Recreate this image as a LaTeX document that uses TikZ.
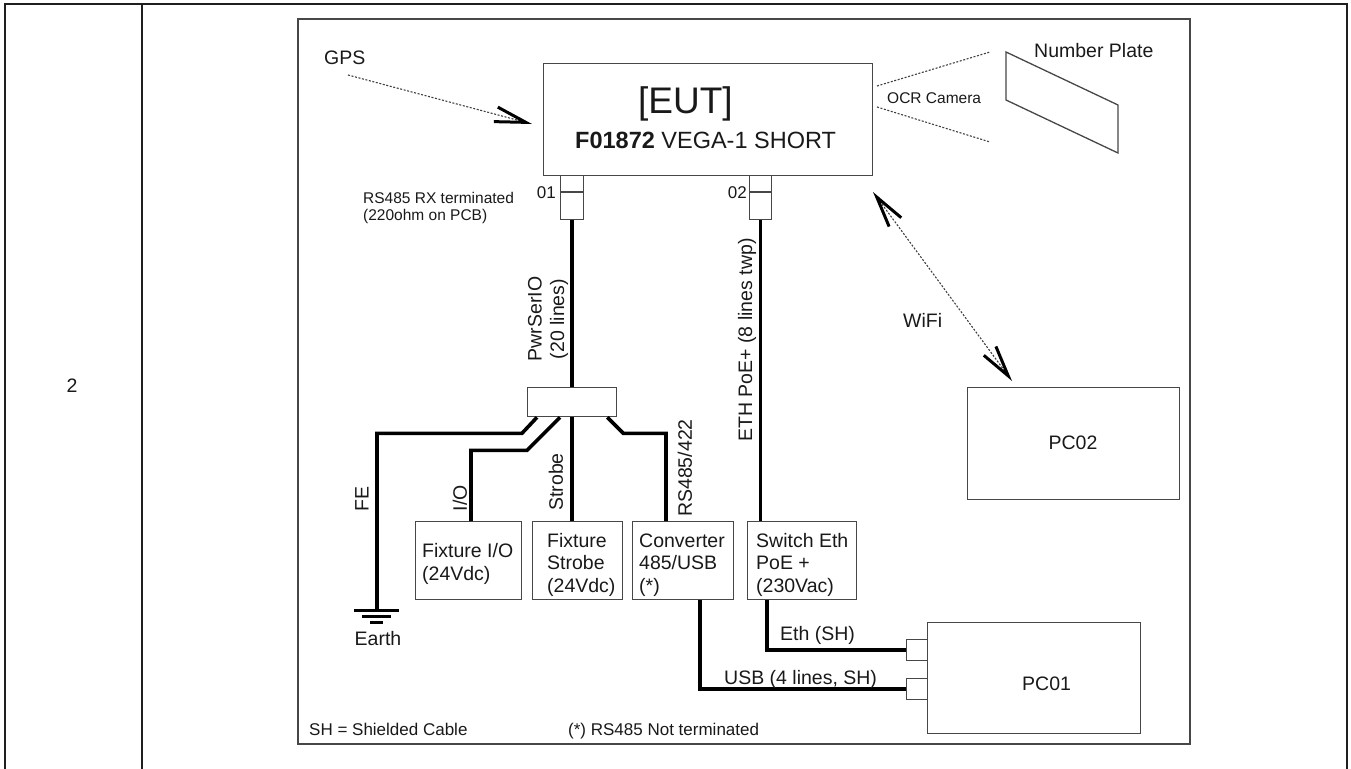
\documentclass[tikz,border=0pt]{standalone}
\usepackage{fontspec}
\setmainfont{Liberation Sans}
\usetikzlibrary{arrows.meta}
\definecolor{boxgray}{gray}{0.28}
\definecolor{txt}{gray}{0.1}
\definecolor{dotgray}{gray}{0.25}
\begin{document}
\begin{tikzpicture}[x=1pt,y=-1pt,
  tbl/.style={draw=black!88, line width=2.6pt},
  frame/.style={draw=boxgray, line width=1.4pt},
  box/.style={draw=boxgray, line width=1.3pt, anchor=north west, inner sep=0pt},
  cable/.style={draw=black, line width=3.6pt},
  radio/.style={draw=dotgray, line width=1.1pt, dash pattern=on 2pt off 1.6pt},
  vtip/.tip={Straight Barb[length=31pt,width=15pt,line width=3pt,color=black]},
  lbl/.style={font=\fontsize{19.5}{22.5}\selectfont, text=txt, inner sep=0pt},
  small/.style={font=\fontsize{15.5}{17.5}\selectfont, text=txt, inner sep=0pt},
  note/.style={font=\fontsize{17}{20}\selectfont, text=txt, inner sep=0pt},
]
\useasboundingbox (0,0) rectangle (1351,768);
% outer table
\draw[tbl] (5,775) -- (5,4) -- (1347,4) -- (1347,775);
\draw[tbl] (142,4) -- (142,775);
\node[lbl, anchor=base] (rownum) at (72,392) {2};
% inner frame
\draw[frame] (298,19) rectangle (1190,744);

% EUT
\node[box, minimum width=329pt, minimum height=112pt] (eut) at (543,63) {};
\node[font=\fontsize{37}{40}\selectfont, text=txt, inner sep=0pt, anchor=base west] (euttitle) at (638,113) {[EUT]};
\node[font=\fontsize{23.5}{26}\selectfont, text=txt, inner sep=0pt, anchor=base west] (eutsub) at (575,148) {\textbf{F01872} VEGA-1 SHORT};

% ports on EUT
\node[box, minimum width=23pt, minimum height=44pt] (p1) at (560,175) {};
\draw[boxgray, line width=1.3pt] (p1.west |- 0,192) -- (p1.east |- 0,192);
\node[box, minimum width=22pt, minimum height=44pt] (p2) at (749,175) {};
\draw[boxgray, line width=1.3pt] (p2.west |- 0,192) -- (p2.east |- 0,192);
\node[font=\fontsize{17}{20}\selectfont, text=txt, inner sep=0pt, anchor=base east] (l01) at (556,198) {01};
\node[font=\fontsize{17}{20}\selectfont, text=txt, inner sep=0pt, anchor=base east] (l02) at (747,198) {02};
\node[small, anchor=base west] (rsterm1) at (363,203) {RS485 RX terminated};
\node[small, anchor=base west] (rsterm2) at (363,220) {(220ohm on PCB)};

% GPS
\node[lbl, anchor=base west] (gps) at (324,64) {GPS};
\coordinate (gpsfrom) at (348,75);
\coordinate (gpstip) at (532,124);
\draw[radio, -vtip] (gpsfrom) -- (gpstip);

% Number plate and OCR camera
\draw[boxgray, line width=1.3pt] (1006,52) -- (1118,105) -- (1118,153) -- (1006,100) -- cycle;
\node[lbl, anchor=base west] (plate) at (1034,58) {Number Plate};
\draw[radio] (877,86) -- (990,52);
\draw[radio] (877,107) -- (990,142);
\node[small, anchor=base west] (ocr) at (887,103) {OCR Camera};

% junction
\node[box, minimum width=89pt, minimum height=29pt] (jb) at (527,387) {};
\draw[cable] (p1.south) -- (jb.north);
\node[lbl, rotate=90, align=center] (pwrlbl) at (548,319) {PwrSerIO\\(20 lines)};

% devices
\node[box, minimum width=106pt, minimum height=78pt] (fio) at (415,521) {};
\node[box, minimum width=90pt, minimum height=78pt] (fsb) at (532,521) {};
\node[box, minimum width=101pt, minimum height=78pt] (conv) at (632,521) {};
\node[box, minimum width=109pt, minimum height=78pt] (sw) at (747,521) {};

\node[lbl, anchor=base west] (fio1) at (422,557) {Fixture I/O};
\node[lbl, anchor=base west] (fio2) at (422,580) {(24Vdc)};
\node[lbl, anchor=base west] (fsb1) at (547,547) {Fixture};
\node[lbl, anchor=base west] (fsb2) at (547,569.5) {Strobe};
\node[lbl, anchor=base west] (fsb3) at (547,592) {(24Vdc)};
\node[lbl, anchor=base west] (conv1) at (639,547) {Converter};
\node[lbl, anchor=base west] (conv2) at (639,569.5) {485/USB};
\node[lbl, anchor=base west] (conv3) at (639,592) {(*)};
\node[lbl, anchor=base west] (sw1) at (756,547) {Switch Eth};
\node[lbl, anchor=base west] (sw2) at (756,569.5) {PoE +};
\node[lbl, anchor=base west] (sw3) at (756,592) {(230Vac)};

% branch cables
\coordinate (earth) at (377,610);
\draw[cable] ([xshift=10pt]jb.south west) -- ++(-15,16) -| (earth);
\draw[cable] ([xshift=33pt]jb.south west) -- ++(-33,33) -| ([xshift=56pt]fio.north west);
\draw[cable] (jb.south) -- (jb.south |- fsb.north);
\draw[cable] ([xshift=-10pt]jb.south east) -- ++(16,16) -| ([xshift=34pt]conv.north west);
\draw[cable] (p2.south) -- (p2.south |- sw.north);

\node[lbl, rotate=90] (felbl) at (362,499) {FE};
\node[lbl, rotate=90] (iolbl) at (460,498) {I/O};
\node[lbl, rotate=90] (strlbl) at (556,482) {Strobe};
\node[lbl, rotate=90] (rslbl) at (685,468) {RS485/422};
\node[lbl, rotate=90] (ethlbl) at (747,340) {ETH PoE+ (8 lines twp)};

% earth symbol
\draw[black, line width=3pt] (earth) ++(-23,0) -- ++(45,0);
\draw[black, line width=3pt] (earth) ++(-15,6) -- ++(29,0);
\draw[black, line width=3pt] (earth) ++(-7,12) -- ++(13,0);
\node[lbl, anchor=base] (earthlbl) at (378,645) {Earth};

% PC01
\node[box, minimum width=213pt, minimum height=111pt] (pc1) at (927,622) {};
\node[lbl, anchor=base west] (pc1lbl) at (1022,690) {PC01};
\node[box, minimum width=21pt, minimum height=21pt] (pp1) at (906,639) {};
\node[box, minimum width=21pt, minimum height=21pt] (pp2) at (906,678) {};
\draw[cable] ([xshift=20pt]sw.south west) |- (pp1.west);
\draw[cable] ([xshift=68pt]conv.south west) |- (pp2.west);
\node[lbl, anchor=base west] (ethsh) at (780,640) {Eth (SH)};
\node[lbl, anchor=base west] (usbsh) at (724,684) {USB (4 lines, SH)};

% PC02 and WiFi
\node[box, minimum width=212pt, minimum height=112pt] (pc2) at (967,387) {};
\node[lbl, anchor=base] (pc2lbl) at (1073,449) {PC02};
\coordinate (wifitop) at (873,192);
\draw[radio, vtip-vtip] (wifitop) -- ([xshift=45pt,yshift=6pt]pc2.north west);
\node[lbl, anchor=base west] (wifi) at (903,327) {WiFi};

% notes
\node[note, anchor=base west] (shnote) at (309,735) {SH = Shielded Cable};
\node[note, anchor=base west] (rsnote) at (568,735) {(*) RS485 Not terminated};
\end{tikzpicture}
\end{document}
